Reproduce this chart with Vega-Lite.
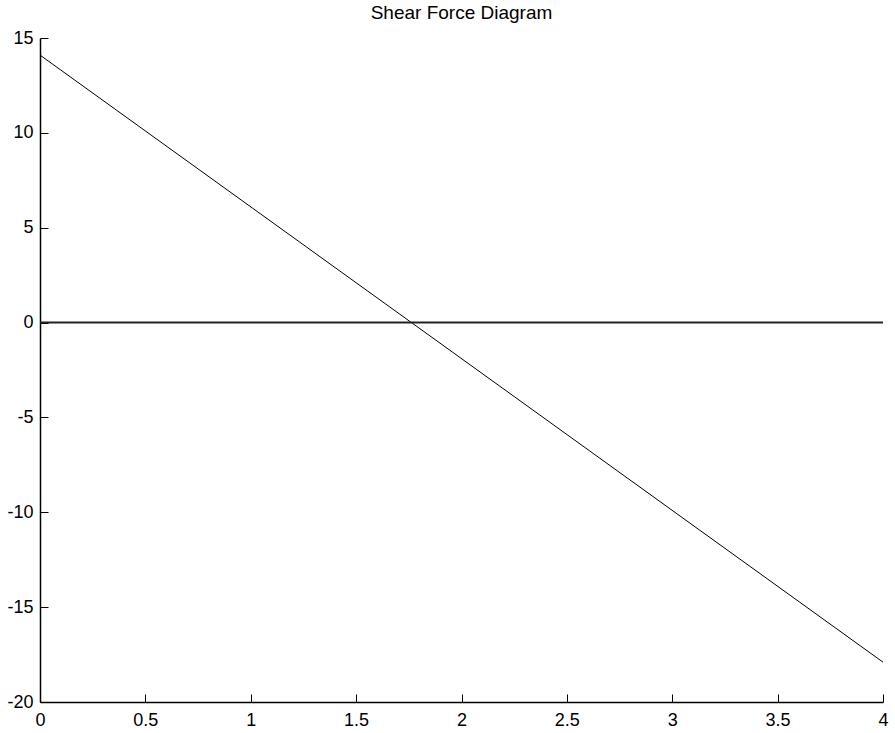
{
  "$schema": "https://vega.github.io/schema/vega-lite/v6.json",
  "width": 843,
  "height": 664,
  "autosize": {"type": "none"},
  "padding": {"left": 40, "top": 38, "right": 12, "bottom": 31},
  "background": "white",
  "title": {"text": "Shear Force Diagram", "font": "Liberation Sans", "fontSize": 19, "fontWeight": "normal", "color": "black", "anchor": "middle", "offset": 6},
  "config": {
    "view": {"stroke": null},
    "axis": {"grid": false, "domainColor": "black", "tickColor": "black", "labelColor": "black", "labelFont": "Liberation Sans", "labelFontSize": 18, "domainWidth": 1.5, "tickWidth": 1, "tickSize": -8, "title": null, "labelExpr": "'' + datum.value"}
  },
  "layer": [
    {
      "data": {"values": [{"x": 0, "v": 14.1}, {"x": 4, "v": -17.9}]},
      "mark": {"type": "line", "color": "black", "strokeWidth": 1, "clip": true},
      "encoding": {
        "x": {"field": "x", "type": "quantitative", "scale": {"domain": [0, 4], "nice": false}, "axis": {"values": [0, 0.5, 1, 1.5, 2, 2.5, 3, 3.5, 4], "labelPadding": 17, "labelFlush": false}},
        "y": {"field": "v", "type": "quantitative", "scale": {"domain": [-20, 15], "nice": false, "zero": false}, "axis": {"values": [-20, -15, -10, -5, 0, 5, 10, 15], "labelPadding": 15, "labelFlush": false}}
      }
    },
    {
      "data": {"values": [{"x": 0, "v": 0}, {"x": 4, "v": 0}]},
      "mark": {"type": "line", "color": "#222222", "strokeWidth": 2},
      "encoding": {
        "x": {"field": "x", "type": "quantitative"},
        "y": {"field": "v", "type": "quantitative"}
      }
    }
  ]
}
